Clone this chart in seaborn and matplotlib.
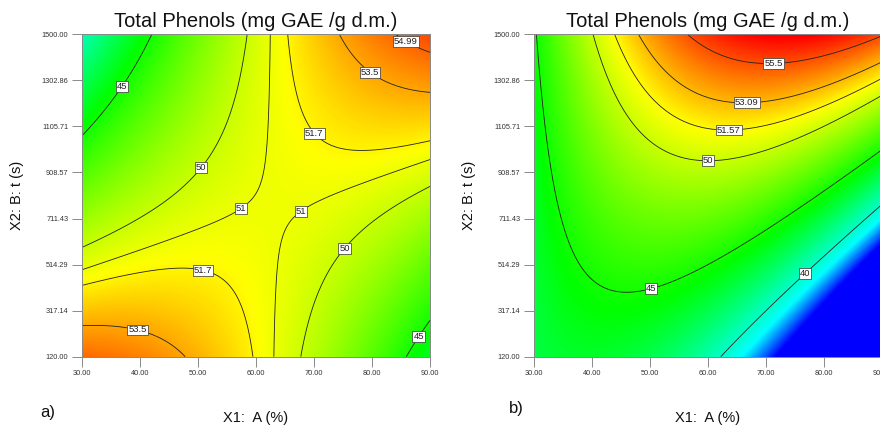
import numpy as np
import matplotlib
matplotlib.use("Agg")
import matplotlib.pyplot as plt
from matplotlib.colors import LinearSegmentedColormap
import seaborn as sns

sns.set_theme(style="white")
plt.rcParams["font.family"] = ["Liberation Sans", "DejaVu Sans"]

# ---- data -------------------------------------------------------------
# axes (actual units)
A_ticks = [30, 40, 50, 60, 70, 80, 90]
t_ticks = [120.00, 317.14, 514.29, 711.43, 908.57, 1105.71, 1302.86, 1500.00]
t_tick_labels = ["120.00", "317.14", "514.29", "711.43", "908.57",
                 "1105.71", "1302.86", "1500.00"]

# quadratic response-surface coefficients (coded units), estimated from the
# contour lines of the picture: [b0, A, B, AB, A^2, B^2]
coef_a = [51.007, 0.996, -0.610, 6.617, -2.342, -0.011]
coef_b = [48.316, -1.469, 7.782, 6.925, -6.035, 0.122]

# contour levels shown and their labels
levels_a = [45, 50, 51, 51.7, 53.5, 54.99]
labels_a = ["45", "50", "51", "51.7", "53.5", "54.99"]
levels_b = [40, 45, 50, 51.57, 53.09, 55.5]
labels_b = ["40", "45", "50", "51.57", "53.09", "55.5"]

# colour scale: response value at which each colour is reached
scale_values = [36.5, 38.8, 44.5, 51.5, 57.3]
scale_colors = ["#0000ff", "#00ffff", "#00ff00", "#ffff00", "#ff0000"]

title = "Total Phenols (mg GAE /g d.m.)"
xlabel = "X1:  A (%)"
ylabel = "X2: B: t (s)"

# label anchor spots (A, t) for contour labels
spots_a = [(36.7, 1279), (50.4, 932), (57.3, 759), (67.3, 759), (70.5, 1086),
           (80, 1347), (86, 1476), (51, 505), (39.75, 248), (74.8, 593),
           (87.6, 213)]
spots_b = [(71.3, 1394), (66.7, 1216), (63.6, 1093), (60, 955), (50.2, 414),
           (76.4, 484)]


def surface(coef, A, t):
    x1 = (A - 60.0) / 30.0
    x2 = (t - 810.0) / 690.0
    b0, b1, b2, b12, b11, b22 = coef
    return b0 + b1 * x1 + b2 * x2 + b12 * x1 * x2 + b11 * x1**2 + b22 * x2**2


vmin, vmax = scale_values[0], scale_values[-1]
nodes = [((v - vmin) / (vmax - vmin), c) for v, c in zip(scale_values, scale_colors)]
cmap = LinearSegmentedColormap.from_list("design_expert", nodes)

W, H = 880, 425
fig = plt.figure(figsize=(8.8, 4.25), dpi=100)

Ag, Tg = np.meshgrid(np.linspace(30, 90, 400), np.linspace(120, 1500, 400))

panels = [
    (81.7, coef_a, levels_a, labels_a, spots_a, "a)", (48, 413), 17.5),
    (533.7, coef_b, levels_b, labels_b, spots_b, "b)", (516, 408), 468.5),
]

for x0, coef, lv, lb, spots, tag, tagpos, ylx in panels:
    ax = fig.add_axes([x0 / W, 1 - 356.7 / H, 348.3 / W, 322.4 / H])
    Z = surface(coef, Ag, Tg)
    ax.imshow(Z, extent=[30, 90, 120, 1500], origin="lower", aspect="auto",
              cmap=cmap, vmin=vmin, vmax=vmax, interpolation="bilinear")
    cs = ax.contour(Ag, Tg, Z, levels=lv, colors="#222222", linewidths=0.6)
    fmt = {cs.levels[i]: lb[i] for i in range(len(lv))}
    texts = ax.clabel(cs, cs.levels, fmt=fmt, manual=spots, inline=False,
                      fontsize=6.8, colors="#222222")
    for tx in texts:
        tx.set_rotation(0)
        tx.set_bbox(dict(boxstyle="square,pad=0.1", facecolor="white",
                         edgecolor="#333333", linewidth=0.5))
        tx.set_zorder(5)
    ax.set_xlim(30, 90)
    ax.set_ylim(120, 1500)
    ax.set_xticks(A_ticks)
    ax.set_xticklabels([f"{v:.2f}" for v in A_ticks])
    ax.set_yticks(t_ticks)
    ax.set_yticklabels(t_tick_labels)
    ax.tick_params(bottom=True, left=True, direction="out", length=7, width=0.6,
                   color="#777777", labelsize=5.3, labelcolor="#333333", pad=2.5)
    for s in ax.spines.values():
        s.set_color("#888888")
        s.set_linewidth(0.7)
    cx = x0 + 348.3 / 2
    fig.text(cx / W, 1 - 21.7 / H, title, ha="center", va="center",
             fontsize=14.5, color="#111111")
    fig.text(cx / W, 1 - 418 / H, xlabel, ha="center", va="center",
             fontsize=10.5, color="#111111")
    fig.text(ylx / W, 1 - 195.5 / H, ylabel, ha="center", va="center",
             rotation=90, fontsize=10.5, color="#111111")
    fig.text(tagpos[0] / W, 1 - tagpos[1] / H, tag, ha="center", va="center",
             fontsize=12, color="#111111")

fig.savefig("out.png", dpi=100)
